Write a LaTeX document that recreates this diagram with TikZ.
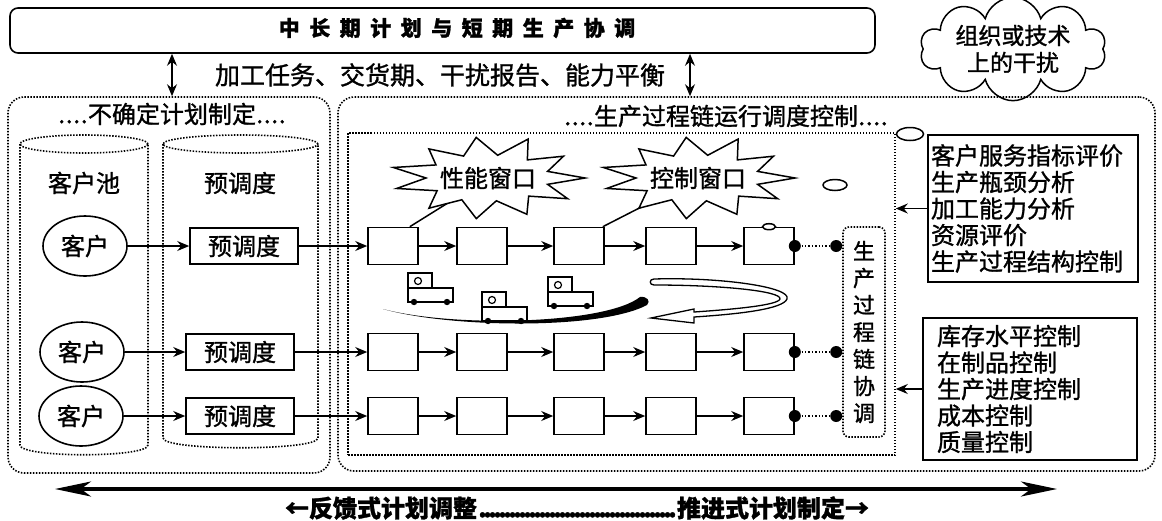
\documentclass[tikz,border=0pt]{standalone}
\usepackage{fontspec}
\newfontfamily\cjk[FakeBold=1.2]{Noto Sans CJK SC}
\usetikzlibrary{shapes.geometric,shapes.symbols,arrows.meta,calc}
% a run of four dots, 30pt wide
\newcommand\dotrun{\hbox to 30pt{\leaders\hbox to 7.5pt{\hss.\hss}\hfill}}
\tikzset{
  fs/.style={font={\cjk\fontsize{#1pt}{#1pt}\selectfont}},
  sbox/.style={draw, line width=1.6pt},
  dotline/.style={draw, line width=1.6pt, dash pattern=on 1.5pt off 1.5pt},
  arr/.style={line width=1.5pt, -{Stealth[length=12pt,width=10pt,inset=4pt]}},
  dbl/.style={line width=1.5pt, {Stealth[length=12pt,width=10pt,inset=4pt]}-{Stealth[length=12pt,width=10pt,inset=4pt]}},
  cbox/.style={sbox, minimum width=50pt, minimum height=37pt, inner sep=0pt},
  pbox/.style={sbox, minimum width=108pt, minimum height=36pt, inner sep=0pt, fs=24},
  cust/.style={ellipse, sbox, minimum width=84pt, minimum height=60pt, inner sep=0pt, fs=24},
  panel/.style={dotline, rounded corners=16pt, inner sep=0pt},
  dotlink/.style={line width=1.5pt, dash pattern=on 1.4pt off 2pt},
  knob/.style={ellipse, draw, line width=1.5pt, fill=white, inner sep=0pt},
  infobox/.style={sbox, align=left, inner ysep=6pt,
    font={\cjk\fontsize{24pt}{26.5pt}\selectfont}},
  burstshape/.pic={
    \draw[line width=1.5pt, line join=miter, fill=white]
      (0:97pt and 37pt) -- (16:62pt and 24pt) -- (33:90pt and 40pt) -- (49:60pt and 24pt)
      -- (65:95pt and 43pt) -- (81:62pt and 23pt) -- (98:85pt and 41pt) -- (114:60pt and 24pt)
      -- (130:92pt and 38pt) -- (147:62pt and 24pt) -- (163:99pt and 36pt) -- (180:62pt and 22pt)
      -- (196:95pt and 38pt) -- (212:60pt and 24pt) -- (229:90pt and 40pt) -- (245:62pt and 24pt)
      -- (262:84pt and 41pt) -- (278:60pt and 23pt) -- (295:92pt and 40pt) -- (311:62pt and 24pt)
      -- (327:95pt and 38pt) -- (344:62pt and 23pt) -- cycle;
  },
  machine/.pic={
    \draw[line width=1.5pt, fill=white] (0,0) rectangle (24,15);
    \draw[line width=1.2pt] (10,8) circle[radius=3.5pt];
    \draw[line width=1.5pt, fill=white] (0,15) rectangle (45,29);
    \fill (6,29) circle[radius=3.2pt];
    \fill (39,29) circle[radius=3.2pt];
  }
}
\begin{document}
\begin{tikzpicture}[x=1pt,y=-1pt]
\useasboundingbox (0,0) rectangle (1162,520);

% top planning bar
\node[sbox, rounded corners=8pt, minimum width=865pt, minimum height=45pt] (plan) at (442.5,30.5) {};
\node[font={\cjk\bfseries\fontsize{21pt}{25pt}\selectfont\spaceskip=9.5pt\relax}] (plantitle) at (457,28)
  {中 长 期 计 划 与 短 期 生 产 协 调};
\node[fs=25] (info) at (440,75) {加工任务、交货期、干扰报告、能力平衡};

% disturbance cloud
\node[cloud, draw, line width=1.5pt, cloud puffs=10, cloud ignores aspect, minimum width=186pt,
  minimum height=88pt, inner sep=0pt, align=center, font={\cjk\fontsize{23pt}{27pt}\selectfont}]
  (dist) at (1013,49) {组织或技术\\上的干扰};

% panels
\node[panel, minimum width=322pt, minimum height=376pt] (lp) at (169,285) {};
\node[panel, minimum width=817pt, minimum height=374pt] (rp) at (746.5,284) {};
\node[dotline, minimum width=547pt, minimum height=322pt, inner sep=0pt] (ip) at (621.5,294) {};
\node[knob, minimum width=27pt, minimum height=13pt] (knobA) at (910,134) {};
\node[knob, minimum width=24pt, minimum height=11pt] (knobB) at (835,185) {};

\draw[dbl] (plan.south -| 172,0) -- (lp.north -| 172,0);
\draw[dbl] (plan.south -| 690,0) -- (rp.north -| 690,0);

\node[fs=24] (lptitle) at (172,114) {\dotrun 不确定计划制定\dotrun};
\node[fs=24] (rptitle) at (726,116) {\dotrun 生产过程链运行调度控制\dotrun};

% customer pool and pre-scheduling cylinders
\draw[dotline] (84,144) ellipse[x radius=64pt, y radius=9pt];
\draw[dotline] (20,144) -- (20,445) .. controls (20,458) and (148,458) .. (148,445) -- (148,144);
\draw[dotline] (240.5,144) ellipse[x radius=77.5pt, y radius=9pt];
\draw[dotline] (163,144) -- (163,438) .. controls (163,451) and (318,451) .. (318,438) -- (318,144);
\node[fs=24] (pooltitle) at (84,183) {客户池};
\node[fs=24] (pretitle) at (240,183) {预调度};

% production chains
\foreach \r/\y/\cx/\px in {1/246/85/244,2/352/82/240,3/416/81/240} {
  \node[cust] (c\r) at (\cx,\y) {客户};
  \node[pbox] (p\r) at (\px,\y) {预调度};
  \draw[arr] (c\r) -- (p\r);
  \foreach \i/\x in {1/393,2/482,3/579,4/671,5/769}
    \node[cbox] (b\r\i) at (\x,\y) {};
  \draw[arr] (p\r) -- (b\r1);
  \foreach \i [evaluate=\i as \j using int(\i+1)] in {1,...,4}
    \draw[arr] (b\r\i) -- (b\r\j);
}
\node[knob, minimum width=13pt, minimum height=6pt] (knobC) at (b15.north) {};

% chain coordination
\node[dotline, rounded corners=6pt, minimum width=42pt, minimum height=210pt, inner sep=0pt,
  align=center, font={\cjk\fontsize{22pt}{27pt}\selectfont}] (co) at (864,332)
  {生\\产\\过\\程\\链\\协\\调};
\foreach \r in {1,2,3} {
  \coordinate (cd\r) at ($(co.west |- b\r5.east)+(-6,0)$);
  \draw[dotlink] (b\r5.east) -- (cd\r);
  \fill (b\r5.east) circle[radius=6pt];
  \fill (cd\r) circle[radius=6pt];
}

% performance and control windows
\coordinate (s1c) at (488,178);
\coordinate (s2c) at (698,178);
\draw[line width=1.5pt] ([xshift=-9pt]b11.north east) -- (s1c);
\draw[line width=1.5pt] ([xshift=-2pt]b13.north east) -- (s2c);
\pic at (s1c) {burstshape};
\pic at (s2c) {burstshape};
\node[fs=24] (s1) at (s1c) {性能窗口};
\node[fs=24] (s2) at (s2c) {控制窗口};

% machines moving along the chain
\pic at (408,273) {machine};
\pic at (482,292) {machine};
\pic at (548,277) {machine};
\fill (383,309) .. controls (450,328) and (600,330) .. (647,305)
  .. controls (651,301) and (647,296) .. (640,297)
  .. controls (606,324) and (455,328) .. (383,309) -- cycle;
\draw[line width=1.3pt, fill=white] (654,279) .. controls (720,277) and (792,287) .. (787,299)
  .. controls (783,309) and (740,314) .. (694,317) -- (694,323) -- (651,318) -- (694,309) -- (694,312)
  .. controls (738,309) and (778,305) .. (780,299)
  .. controls (782,291) and (720,285) .. (654,285)
  .. controls (649,285) and (649,279) .. (654,279) -- cycle;

% evaluation and control boxes
\node[infobox, text width=204pt, inner xsep=3pt, minimum height=147pt] (ib1) at (1033,208.5)
  {客户服务指标评价\\生产瓶颈分析\\加工能力分析\\资源评价\\生产过程结构控制};
\node[infobox, text width=186pt, inner xsep=14pt, minimum height=142pt] (ib2) at (1030,389)
  {库存水平控制\\在制品控制\\生产进度控制\\成本控制\\质量控制};
\draw[arr] (ib1.west) -- (ib1.west -| ip.east);
\draw[arr] (ib2.west) -- (ib2.west -| ip.east);

% planning direction
\coordinate (fbL) at (55,489);
\coordinate (fbR) at (1057,489);
\draw[line width=3.2pt, {Stealth[length=36pt,width=15pt,inset=10pt]}-{Stealth[length=36pt,width=15pt,inset=10pt]}] (fbL) -- (fbR);
\node[font={\cjk\bfseries\fontsize{24pt}{26pt}\selectfont}] (fbtext) at (577,508)
  {←反馈式计划调整\leaders\hbox to 5pt{\hss.\hss}\hskip 200pt\relax 推进式计划制定→};
\end{tikzpicture}
\end{document}
